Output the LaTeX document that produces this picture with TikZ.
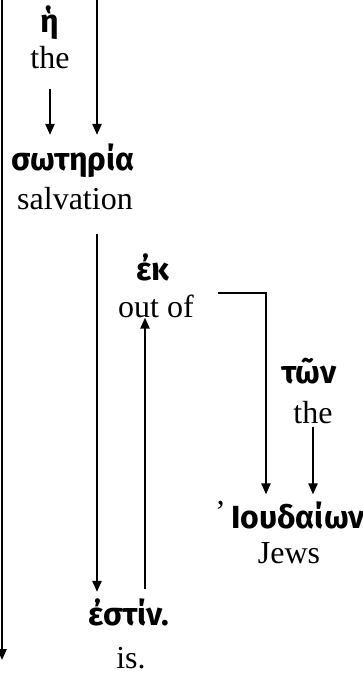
\documentclass[tikz,border=0pt]{standalone}
\usepackage{fontspec}
\setmainfont{Liberation Serif}
\newfontfamily\grkfont{Fira Sans}
\usetikzlibrary{arrows.meta,calc}
\tikzset{
  >={Triangle[length=5.5pt,width=4.6pt]},
  grk/.style={font=\grkfont\bfseries\fontsize{16}{19}\selectfont,
    anchor=base,inner sep=0pt},
  eng/.style={font=\fontsize{16}{19}\selectfont,anchor=base,inner sep=0pt},
  lnk/.style={line width=1pt},
  lnkarr/.style={->,line width=1pt},
}

\begin{document}
\begin{tikzpicture}[x=0.5pt,y=-0.5pt]
  \useasboundingbox (0,0) rectangle (363,677);
  % words
  \node[grk] (h) at (50,32) {ἡ};
  \node[eng] (hEn) at (50,68) {the};
  \node[grk] (soteria) at (73,170) {σωτηρία};
  \node[eng] (soteriaEn) at (75,209) {salvation};
  \node[grk] (ek) at (153,280) {ἐκ};
  \node[eng] (ekEn) at (156,317) {out of};
  \node[grk] (ton) at (309,383) {τῶν};
  \node[eng] (tonEn) at (313,423) {the};
  \node[grk] (ioudaion) at (290,528) {{\normalfont\mdseries\raisebox{3pt}{’}}\,Ιουδαίων};
  \node[eng] (ioudaionEn) at (289,563) {Jews};
  \node[grk] (estin) at (129,625) {ἐστίν.};
  \node[eng] (estinEn) at (131,668) {is.};
  % free ends
  \coordinate (topL) at (2,0);
  \coordinate (botL) at (2,660);
  \coordinate (topR) at (97,0);
  \coordinate (bend) at (266,293);
  \coordinate (upEnd) at ([xshift=-5.5pt]ekEn.south);
  % links
  \draw[lnkarr] (topL) -- (botL);
  \draw[lnkarr,shorten >=4pt] (topR) -- (topR |- soteria.north);
  \draw[lnkarr,shorten <=10pt,shorten >=4pt] (hEn.south)
    -- (hEn.south |- soteria.north);
  \draw[lnkarr,shorten <=12pt,shorten >=3pt] (soteriaEn.south -| topR)
    -- (estin.north -| topR);
  \draw[lnkarr,shorten <=4.5pt] (upEnd |- estin.north) -- (upEnd);
  \draw[lnkarr,shorten <=12pt,shorten >=3pt] (ekEn.east |- bend) -- (bend)
    -- (bend |- ioudaion.north);
  \draw[lnkarr,shorten <=1.5pt,shorten >=3pt] (tonEn.south)
    -- (tonEn.south |- ioudaion.north);
\end{tikzpicture}
\end{document}
